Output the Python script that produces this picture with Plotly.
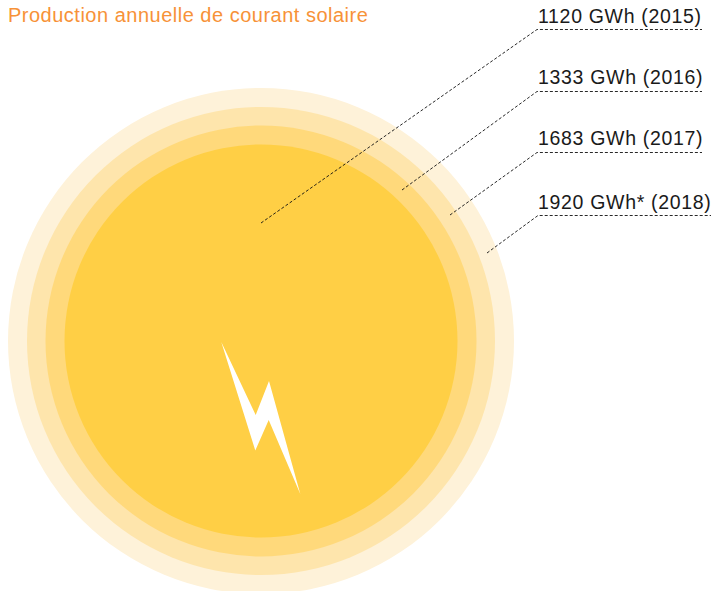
import plotly.graph_objects as go

years = ["2015", "2016", "2017", "2018"]
gwh = ["1120 GWh", "1333 GWh", "1683 GWh", "1920 GWh*"]
title_text = "Production annuelle de courant solaire"

# circles, largest first (pixel scale of the picture)
ring_diameter = [506, 468, 431, 393]
ring_colors = ["#FEF2D9", "#FEE5AC", "#FFD97B", "#FFCF45"]
center_x, center_y = 261, 341

# leader lines: start inside the ring, elbow, end
leader_start_x = [261, 402, 450, 487]
leader_start_y = [223, 190, 215, 253]
leader_elbow_x = [537, 537, 537, 538]
leader_y = [29.5, 91.5, 152.5, 215.5]
leader_end_x = [702, 702, 702, 711]
label_y = [16, 77, 138, 202]

bolt_x = [221.3, 255.7, 269, 300.3, 268.7, 255.3, 221.3]
bolt_y = [342, 415, 381, 494, 420, 450.5, 342]

fig = go.Figure()
for d, c in zip(ring_diameter, ring_colors):
    fig.add_trace(go.Scatter(x=[center_x], y=[center_y], mode="markers",
                             marker=dict(size=d, color=c, line=dict(width=0), opacity=1),
                             hoverinfo="skip", cliponaxis=True))
fig.add_trace(go.Scatter(x=bolt_x, y=bolt_y, mode="lines", fill="toself",
                         fillcolor="#FFFFFF", line=dict(width=0), hoverinfo="skip"))
for sx, sy, ex, ly, endx in zip(leader_start_x, leader_start_y, leader_elbow_x, leader_y, leader_end_x):
    fig.add_trace(go.Scatter(x=[sx, ex, endx], y=[sy, ly, ly], mode="lines",
                             line=dict(color="#111111", width=0.9, dash="3px,2px"), hoverinfo="skip"))

annotations = [dict(x=6, y=14.5, xref="x", yref="y", text=title_text, showarrow=False,
                    xanchor="left", yanchor="middle", align="left",
                    font=dict(family="Liberation Sans", size=20, color="#F79238"))]
for g, yr, ly in zip(gwh, years, label_y):
    annotations.append(dict(x=536, y=ly, xref="x", yref="y", text=f"{g} ({yr})", showarrow=False,
                            xanchor="left", yanchor="middle", align="left",
                            font=dict(family="Liberation Sans", size=19.5, color="#1A1A1A")))

fig.update_layout(
    width=713, height=591, autosize=False,
    margin=dict(l=0, r=0, t=0, b=0),
    paper_bgcolor="white", plot_bgcolor="white", showlegend=False,
    xaxis=dict(range=[0, 713], visible=False, fixedrange=True),
    yaxis=dict(range=[591, 0], visible=False, fixedrange=True),
    annotations=annotations,
)
post = """
document.body.style.margin = '0';
document.body.style.overflow = 'hidden';
document.querySelectorAll('.annotation-text').forEach(function (t, i) {
  t.style.letterSpacing = (i === 0 ? '0.5px' : '0.68px');
});
"""
fig.write_html("out.html", config=dict(displayModeBar=False), post_script=post)
